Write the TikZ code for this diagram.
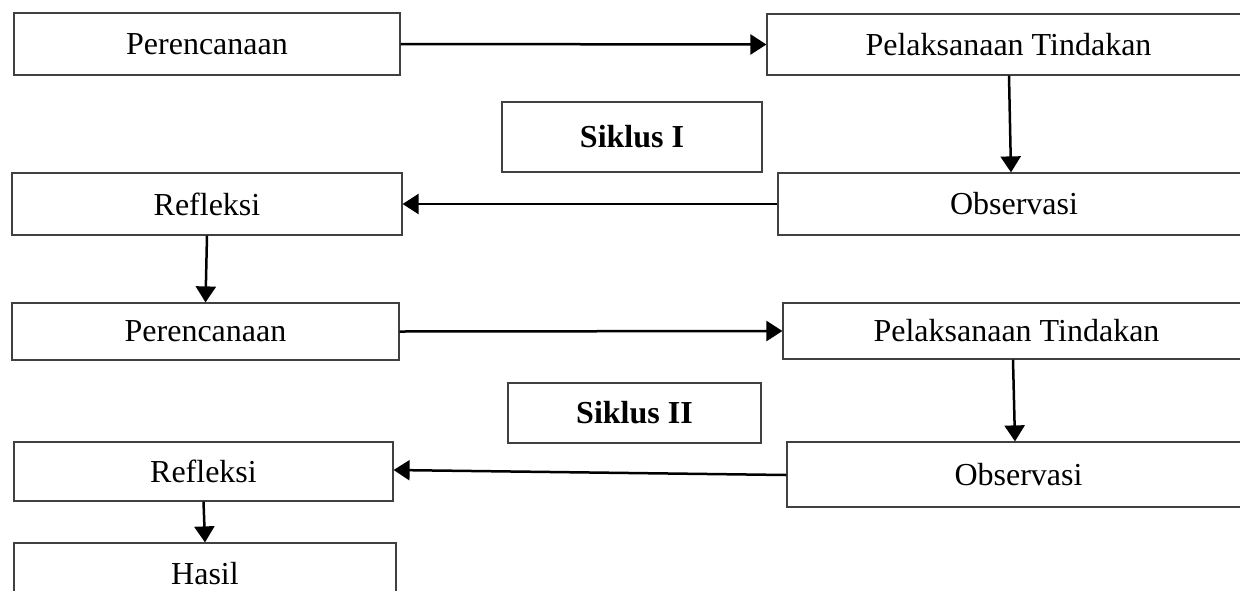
\documentclass[tikz,border=0pt]{standalone}
\usepackage{fontspec}
\setmainfont{Liberation Serif}
\usetikzlibrary{arrows.meta}
\begin{document}
\begin{tikzpicture}[x=1pt,y=-1pt,
  box/.style={draw=black!75, line width=1.2pt, rectangle, inner sep=0pt,
    font=\fontsize{32}{38}\selectfont},
  arr/.style={line width=2.5pt, -{Triangle[length=16pt,width=20pt]}}]
\useasboundingbox (0,0) rectangle (1240,590);
\clip (0,0) rectangle (1240,590);
\node[box, minimum width=386pt, minimum height=62pt] (p1) at (207,44) {Perencanaan};
\node[box, minimum width=483pt, minimum height=61pt] (l1) at (1008.5,44.5) {Pelaksanaan Tindakan};
\node[box, minimum width=260pt, minimum height=70pt] (s1) at (632,137) {\bfseries Siklus I};
\node[box, minimum width=472pt, minimum height=62pt] (o1) at (1014,204) {Observasi};
\node[box, minimum width=390pt, minimum height=62pt] (r1) at (207,204) {Refleksi};
\node[box, minimum width=387pt, minimum height=57pt] (p2) at (205.5,331.5) {Perencanaan};
\node[box, minimum width=467pt, minimum height=56pt] (l2) at (1016.5,331) {Pelaksanaan Tindakan};
\node[box, minimum width=253pt, minimum height=60pt] (s2) at (634.5,413) {\bfseries Siklus II};
\node[box, minimum width=463pt, minimum height=65pt] (o2) at (1018.5,474.5) {Observasi};
\node[box, minimum width=379pt, minimum height=59pt] (r2) at (203.5,471.5) {Refleksi};
\node[box, minimum width=382pt, minimum height=62pt] (h) at (205,574) {Hasil};
\draw[arr] (p1.east) -- (l1.west);
\draw[arr] ([xshift=0.5pt]l1.south) -- ([xshift=-3pt]o1.north);
\draw[arr] (o1.west) -- (r1.east);
\draw[arr] (r1.south) -- (p2.north);
\draw[arr] (p2.east) -- (l2.west);
\draw[arr] ([xshift=-3.5pt]l2.south) -- ([xshift=-3.5pt]o2.north);
\draw[arr] ([yshift=-0.5pt]o2.west) -- ([yshift=1.5pt]r2.east);
\draw[arr] (r2.south) -- (h.north);
\end{tikzpicture}
\end{document}
